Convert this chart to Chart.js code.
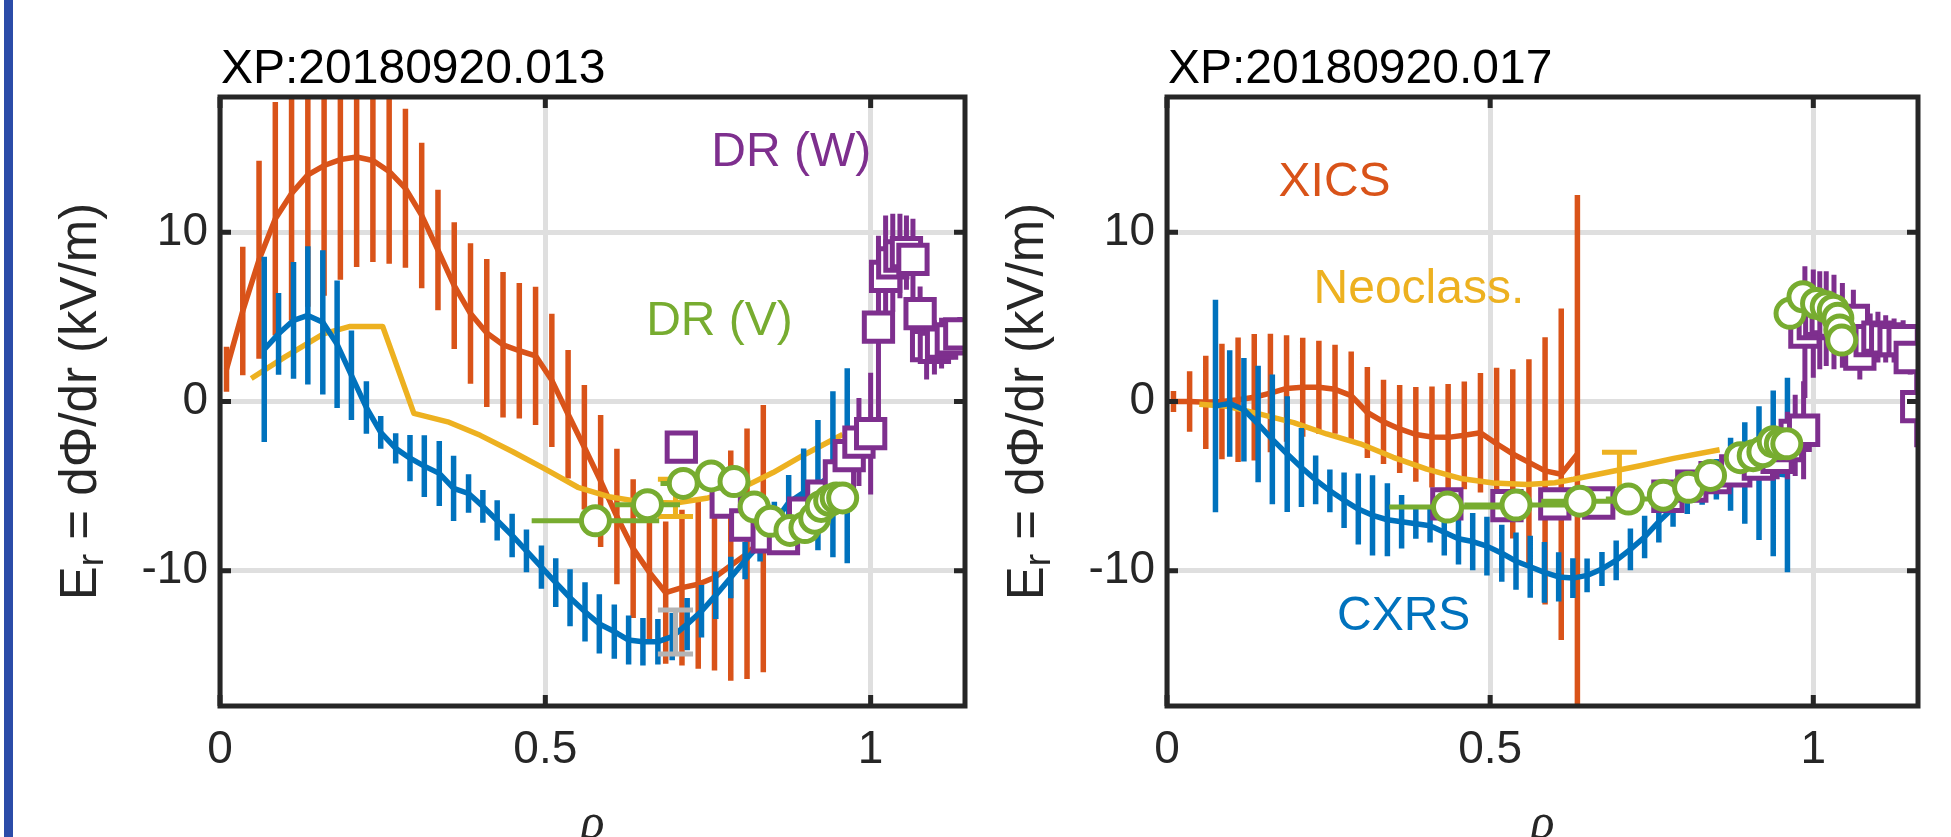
<!DOCTYPE html>
<html>
<head>
<meta charset="utf-8">
<script src="https://cdn.jsdelivr.net/npm/chart.js@4.4.1/dist/chart.umd.min.js"></script>
<style>
  html, body { margin: 0; padding: 0; background: #fff; }
  #wrap { position: relative; width: 1951px; height: 837px; overflow: hidden; background: #fff; }
  canvas { position: absolute; top: 0; }
  #c13 { left: 0; }
  #c17 { left: 990px; }
  #stripe { position: absolute; left: 4px; top: 0; width: 9px; height: 837px; background: #2b4ca8; }
</style>
</head>
<body>
<div id="wrap">
  <canvas id="c13" width="990" height="837"></canvas>
  <canvas id="c17" width="961" height="837"></canvas>
  <div id="stripe"></div>
</div>
<script>
// axis ticks (both panels)
var xTicks = [0, 0.5, 1];
var yTicks = [-10, 0, 10];

// ---------- XP:20180920.013 (left) ----------
var xicsX13 = [0.01, 0.035, 0.06, 0.085, 0.11, 0.135, 0.16, 0.185, 0.21, 0.235, 0.26, 0.285, 0.31, 0.335, 0.36, 0.385, 0.41,
               0.435, 0.46, 0.485, 0.51, 0.535, 0.56, 0.585, 0.61, 0.635, 0.66, 0.685, 0.71, 0.735, 0.76, 0.785, 0.81, 0.835];
var xicsY13 = [1.9, 5.35, 8.38, 10.8, 12.3, 13.4, 13.95, 14.3, 14.45, 14.25, 13.6, 12.6, 11.0, 8.95, 6.85, 5.2, 4.05,
               3.35, 3.0, 2.7, 1.25, -0.75, -2.7, -4.7, -6.8, -8.7, -10.1, -11.3, -11.0, -10.8, -10.4, -9.7, -9.0, -8.1];
var xicsE13 = [1.33, 3.8, 5.85, 6.9, 7.5, 7.8, 7.7, 7.1, 6.5, 6.0, 5.45, 4.7, 4.3, 3.56, 3.74, 4.15, 4.38,
               4.3, 4.0, 4.09, 3.94, 3.8, 3.68, 3.9, 4.0, 4.1, 4.15, 4.2, 4.6, 5.0, 5.5, 6.8, 7.4, 7.9];

var cxrsX13 = [0.068, 0.090, 0.113, 0.135, 0.158, 0.180, 0.202, 0.225, 0.247, 0.270, 0.292, 0.314, 0.337, 0.359,
               0.382, 0.404, 0.426, 0.449, 0.471, 0.494, 0.516, 0.538, 0.561, 0.583, 0.606, 0.628, 0.650, 0.673,
               0.695, 0.718, 0.740, 0.762, 0.785, 0.807, 0.830, 0.852, 0.874, 0.897, 0.919, 0.942, 0.964];
var cxrsY13 = [3.08, 4.0, 4.8, 5.09, 4.68, 3.38, 1.55, -0.36, -1.83, -2.77, -3.35, -3.82, -4.25, -5.13,
               -5.44, -6.2, -7.03, -7.92, -8.83, -9.79, -10.71, -11.6, -12.43, -13.15, -13.6, -14.1, -14.2, -14.2,
               -13.9, -13.16, -12.4, -11.45, -10.4, -9.4, -8.43, -7.15, -5.97, -5.38, -4.94, -4.3, -3.8];
var cxrsE13 = [5.47, 2.42, 3.45, 4.09, 4.26, 3.77, 2.65, 1.55, 0.97, 0.9, 1.37, 1.83, 1.92, 1.93,
               1.14, 0.97, 1.19, 1.28, 1.26, 1.28, 1.44, 1.69, 1.75, 1.75, 1.6, 1.45, 1.4, 1.35,
               1.4, 1.55, 1.55, 1.4, 1.23, 1.1, 1.03, 1.23, 1.62, 2.6, 3.85, 4.9, 5.76];

var neoX13 = [0.048, 0.1, 0.159, 0.2, 0.25, 0.298, 0.35, 0.4, 0.45, 0.5, 0.55, 0.6, 0.65, 0.7, 0.75, 0.8, 0.85, 0.9, 0.957];
var neoY13 = [1.36, 2.64, 4.0, 4.44, 4.44, -0.7, -1.2, -2.0, -2.97, -4.0, -5.07, -5.65, -5.95, -6.0, -5.7, -5.15, -4.2, -3.1, -1.95];
var neoBarX13 = [0.70];
var neoBarY13 = [-5.7];
var neoBarE13 = [1.1];

var drwX13 = [0.709, 0.778, 0.808, 0.841, 0.866, 0.897, 0.925, 0.952, 0.967, 0.982, 1.000, 1.012,
              1.023, 1.034, 1.045, 1.055, 1.065, 1.076, 1.086, 1.098, 1.109, 1.124, 1.137];
var drwY13 = [-2.7, -5.95, -7.3, -8.0, -8.1, -6.6, -5.6, -4.4, -3.2, -2.4, -1.9, 4.4,
              7.4, 8.2, 8.6, 8.8, 8.4, 5.2, 3.3, 3.2, 3.45, 3.7, 4.0];
var drwE13 = [0.3, 0.4, 0.5, 0.5, 0.6, 0.7, 0.9, 1.1, 1.6, 2.6, 3.6, 5.4,
              3.6, 2.9, 2.5, 2.2, 2.4, 1.6, 2.0, 1.6, 1.5, 1.2, 1.0];

var drvX13 = [0.577, 0.657, 0.712, 0.755, 0.79, 0.821, 0.846, 0.876, 0.899, 0.914, 0.924, 0.937, 0.947, 0.957];
var drvY13 = [-7.05, -6.1, -4.84, -4.4, -4.73, -6.23, -7.08, -7.62, -7.45, -6.9, -6.2, -5.85, -5.7, -5.7];
var drvE13 = [0.098, 0.05, 0.035, 0.02, 0.01, 0.01, 0.005, 0.005, 0.005, 0.005, 0.005, 0.005, 0.005, 0.005];

var grayX13 = [0.70];
var grayY13 = [-13.62];
var grayE13 = [1.3];

// ---------- XP:20180920.017 (right) ----------
var xicsX17 = [0.01, 0.035, 0.06, 0.085, 0.11, 0.135, 0.16, 0.185, 0.21, 0.235, 0.26, 0.285, 0.31,
               0.335, 0.36, 0.385, 0.41, 0.435, 0.46, 0.485, 0.51, 0.535, 0.56, 0.585, 0.61, 0.635];
var xicsY17 = [0, 0, -0.05, 0, 0.1, 0.25, 0.5, 0.77, 0.84, 0.84, 0.72, 0.35, -0.65,
               -1.2, -1.62, -1.95, -2.1, -2.12, -2.0, -1.85, -2.5, -3.1, -3.6, -4.1, -4.3, -3.1];
var xicsE17 = [0.62, 1.79, 2.76, 3.42, 3.68, 3.74, 3.5, 3.15, 2.93, 2.75, 2.63, 2.6, 2.69,
               2.49, 2.6, 2.8, 2.98, 3.15, 3.18, 3.53, 4.5, 5.0, 6.1, 7.9, 9.8, 15.3];

var cxrsX17 = [0.075, 0.097, 0.119, 0.141, 0.163, 0.186, 0.208, 0.230, 0.252, 0.274, 0.296, 0.318, 0.341, 0.363,
               0.385, 0.407, 0.429, 0.451, 0.473, 0.495, 0.518, 0.540, 0.562, 0.584, 0.606, 0.628, 0.650, 0.673,
               0.695, 0.717, 0.739, 0.761, 0.783, 0.805, 0.828, 0.850, 0.872, 0.894, 0.916, 0.938, 0.960];
var cxrsY17 = [-0.26, -0.12, -0.49, -1.33, -2.24, -3.11, -3.9, -4.63, -5.28, -5.84, -6.36, -6.73, -6.99, -7.11,
               -7.23, -7.34, -7.73, -8.11, -8.28, -8.55, -8.97, -9.44, -9.77, -10.1, -10.37, -10.44, -10.28, -9.9,
               -9.39, -8.74, -8.01, -7.1, -6.29, -5.65, -5.1, -4.6, -4.3, -4.23, -4.23, -4.25, -4.35];
var cxrsE17 = [6.28, 3.15, 3.06, 3.45, 3.83, 3.42, 2.34, 1.44, 1.26, 1.64, 2.1, 2.37, 2.16, 1.58,
               0.88, 1.0, 1.38, 1.52, 1.69, 1.73, 1.69, 1.69, 1.83, 1.8, 1.46, 1.17, 1.0, 1.0,
               1.17, 1.23, 1.25, 1.23, 1.11, 1.0, 1.0, 1.2, 2.16, 3.0, 3.95, 4.9, 5.75];

var neoX17 = [0.05, 0.093, 0.144, 0.196, 0.247, 0.299, 0.35, 0.402, 0.454, 0.505, 0.557, 0.6, 0.629, 0.68, 0.732, 0.784, 0.855];
var neoY17 = [-0.16, -0.28, -0.75, -1.25, -1.92, -2.5, -3.3, -4.0, -4.55, -4.82, -4.9, -4.8, -4.6, -4.2, -3.8, -3.36, -2.85];
var neoBarX17 = [0.70];
var neoBarY17 = [-4.2];
var neoBarE17 = [1.2];

var drwX17 = [0.433, 0.526, 0.600, 0.668, 0.775, 0.812, 0.848, 0.880, 0.915, 0.944, 0.960, 0.972, 0.985,
              0.987, 1.000, 1.010, 1.020, 1.032, 1.045, 1.062, 1.072, 1.088, 1.100, 1.112, 1.125, 1.139, 1.150, 1.160];
var drwY17 = [-6.05, -6.15, -6.05, -6.0, -5.6, -5.0, -4.5, -4.1, -3.7, -3.3, -2.6, -2.0, -1.7,
              4.1, 4.6, 4.8, 4.9, 4.7, 4.5, 4.8, 2.8, 3.6, 3.8, 3.7, 3.6, 3.6, 2.6, -0.3];
var drwE17 = [0.3, 0.3, 0.3, 0.3, 0.3, 0.4, 0.5, 0.6, 0.9, 1.3, 2.0, 2.4, 2.9,
              3.9, 3.2, 2.9, 2.8, 2.8, 2.5, 1.8, 1.5, 1.6, 1.5, 1.4, 1.3, 1.2, 1.0, 2.4];

var drvX17 = [0.434, 0.54, 0.639, 0.714, 0.768, 0.807, 0.841, 0.887, 0.907, 0.922, 0.938, 0.949, 0.959,
              0.964, 0.984, 1.005, 1.02, 1.031, 1.038, 1.041, 1.044];
var drvY17 = [-6.24, -6.12, -5.89, -5.77, -5.54, -5.07, -4.37, -3.32, -3.2, -2.97, -2.38, -2.5, -2.5,
              5.21, 6.19, 5.8, 5.6, 5.4, 4.92, 4.23, 3.63];
var drvE17 = [0.09, 0.08, 0.06, 0.035, 0.02, 0.01, 0.01, 0.005, 0.005, 0.005, 0.005, 0.005, 0.005,
              0.005, 0.005, 0.005, 0.005, 0.005, 0.005, 0.005, 0.005];

// colours (MATLAB defaults)
var BLUE = '#0072BD', ORANGE = '#D95319', YELLOW = '#EDB120', PURPLE = '#7E2F8E', GREEN = '#77AC30', GRAY = '#b4b4b4';
var SANS = '"Liberation Sans", Arial, Helvetica, sans-serif';
var CAP = 0.027;
var LW = 5.5;

function pts(xs, ys) {
    return xs.map(function (x, i) { return { x: x, y: ys[i] }; });
}
// vertical error bars as broken line segments
function vbars(xs, ys, es, cap) {
    var out = [];
    for (var i = 0; i < xs.length; i++) {
        out.push({ x: xs[i], y: ys[i] - es[i] }, { x: xs[i], y: ys[i] + es[i] }, { x: xs[i], y: null });
        if (cap) {
            out.push({ x: xs[i] - cap, y: ys[i] - es[i] }, { x: xs[i] + cap, y: ys[i] - es[i] }, { x: xs[i], y: null });
            out.push({ x: xs[i] - cap, y: ys[i] + es[i] }, { x: xs[i] + cap, y: ys[i] + es[i] }, { x: xs[i], y: null });
        }
    }
    return out;
}
// horizontal error bars
function hbars(xs, ys, es) {
    var out = [];
    for (var i = 0; i < xs.length; i++) {
        out.push({ x: xs[i] - es[i], y: ys[i] }, { x: xs[i] + es[i], y: ys[i] }, { x: xs[i], y: null });
    }
    return out;
}
function lineSet(data, color, order, width) {
    return {
        data: data, showLine: true, spanGaps: false, borderColor: color, borderWidth: width || LW,
        pointRadius: 0, pointHoverRadius: 0, borderCapStyle: 'butt', borderJoinStyle: 'round', fill: false, order: order
    };
}
function markSet(data, color, style, r, order) {
    return {
        data: data, showLine: false, pointStyle: style, pointRadius: r, pointHoverRadius: r,
        pointBorderWidth: 5, pointBorderColor: color, pointBackgroundColor: '#fff', order: order
    };
}

// text + axes box drawn on top
var deco = {
    c13: {
        title: 'XP:20180920.013',
        labels: [
            { text: 'DR (W)', x: 0.755, y: 13.93, color: PURPLE },
            { text: 'DR (V)', x: 0.655, y: 3.94, color: GREEN }
        ]
    },
    c17: {
        title: 'XP:20180920.017',
        labels: [
            { text: 'XICS', x: 0.1726, y: 12.16, color: ORANGE },
            { text: 'Neoclass.', x: 0.2267, y: 5.81, color: YELLOW },
            { text: 'CXRS', x: 0.263, y: -13.5, color: BLUE }
        ]
    }
};

var panelDeco = {
    id: 'panelDeco',
    afterDraw: function (chart) {
        var d = deco[chart.canvas.id];
        var ctx = chart.ctx, a = chart.chartArea, xs = chart.scales.x, ys = chart.scales.y;
        ctx.save();
        // box with inward ticks
        ctx.strokeStyle = '#262626';
        ctx.lineWidth = 5;
        ctx.strokeRect(a.left, a.top, a.right - a.left, a.bottom - a.top);
        ctx.beginPath();
        xs.ticks.forEach(function (t) {
            var px = xs.getPixelForValue(t.value);
            ctx.moveTo(px, a.bottom); ctx.lineTo(px, a.bottom - 11);
            ctx.moveTo(px, a.top); ctx.lineTo(px, a.top + 11);
        });
        ys.ticks.forEach(function (t) {
            var py = ys.getPixelForValue(t.value);
            ctx.moveTo(a.left, py); ctx.lineTo(a.left + 11, py);
            ctx.moveTo(a.right, py); ctx.lineTo(a.right - 11, py);
        });
        ctx.stroke();

        // title
        ctx.fillStyle = '#000';
        ctx.textAlign = 'left';
        ctx.textBaseline = 'alphabetic';
        ctx.font = '48px ' + SANS;
        ctx.fillText(d.title, a.left + 1, 83);

        // in-plot labels
        d.labels.forEach(function (l) {
            ctx.fillStyle = l.color;
            ctx.fillText(l.text, xs.getPixelForValue(l.x), ys.getPixelForValue(l.y));
        });

        // x label
        ctx.fillStyle = '#262626';
        ctx.textAlign = 'center';
        ctx.font = 'italic 50px "Liberation Serif", "Times New Roman", serif';
        ctx.fillText('\u03C1', (a.left + a.right) / 2, 838);

        // y label with subscript
        ctx.translate(a.left - 124, (a.top + a.bottom) / 2);
        ctx.rotate(-Math.PI / 2);
        ctx.textAlign = 'left';
        var big = '51px ' + SANS, small = '37px ' + SANS, rest = ' = d\u03A6/dr (kV/m)';
        ctx.font = big; var wE = ctx.measureText('E').width; var wRest = ctx.measureText(rest).width;
        ctx.font = small; var wr = ctx.measureText('r').width;
        var x0 = -(wE + wr + wRest) / 2;
        ctx.font = big; ctx.fillText('E', x0, 0);
        ctx.font = small; ctx.fillText('r', x0 + wE, 7);
        ctx.font = big; ctx.fillText(rest, x0 + wE + wr, 0);
        ctx.restore();
    }
};

function scalesFor(xMax, yWidth) {
    var tickFont = { family: SANS, size: 46 };
    return {
        x: {
            type: 'linear', min: 0, max: xMax,
            afterBuildTicks: function (s) { s.ticks = xTicks.map(function (v) { return { value: v }; }); },
            afterFit: function (s) { s.height = 131; },
            grid: { color: '#dfdfdf', lineWidth: 5, drawTicks: false },
            border: { display: false },
            ticks: { padding: 17, color: '#262626', font: tickFont, maxRotation: 0, autoSkip: false,
                     callback: function (v) { return String(v); } }
        },
        y: {
            type: 'linear', min: -18, max: 18,
            afterBuildTicks: function (s) { s.ticks = yTicks.map(function (v) { return { value: v }; }); },
            afterFit: function (s) { s.width = yWidth; },
            grid: { color: '#dfdfdf', lineWidth: 5, drawTicks: false },
            border: { display: false },
            ticks: { padding: 12, color: '#262626', font: tickFont, autoSkip: false,
                     callback: function (v) { return String(v); } }
        }
    };
}

function buildDatasets(p) {
    var sets = [
        lineSet(vbars(p.xicsX, p.xicsY, p.xicsE), ORANGE, 12),
        lineSet(pts(p.xicsX, p.xicsY), ORANGE, 11),
        lineSet(pts(p.neoX, p.neoY), YELLOW, 10),
        lineSet(vbars(p.neoBarX, p.neoBarY, p.neoBarE, CAP), YELLOW, 9, 5),
        lineSet(vbars(p.cxrsX, p.cxrsY, p.cxrsE), BLUE, 8),
        lineSet(pts(p.cxrsX, p.cxrsY), BLUE, 7),
        lineSet(vbars(p.drwX, p.drwY, p.drwE), PURPLE, 6, 5),
        markSet(pts(p.drwX, p.drwY), PURPLE, 'rect', 20, 5),
        lineSet(hbars(p.drvX, p.drvY, p.drvE), GREEN, 4, 5),
        markSet(pts(p.drvX, p.drvY), GREEN, 'circle', 14, 3)
    ];
    if (p.grayX) sets.push(lineSet(vbars(p.grayX, p.grayY, p.grayE, CAP), GRAY, 1, 5));
    return sets;
}

function makeChart(id, p, xMax, yWidth, padRight) {
    return new Chart(document.getElementById(id).getContext('2d'), {
        type: 'scatter',
        data: { datasets: buildDatasets(p) },
        options: {
            responsive: false, animation: false, devicePixelRatio: 1, events: [],
            layout: { padding: { left: 0, right: padRight, top: 97, bottom: 0 } },
            scales: scalesFor(xMax, yWidth),
            plugins: { legend: { display: false }, tooltip: { enabled: false } }
        },
        plugins: [panelDeco]
    });
}

makeChart('c13', {
    xicsX: xicsX13, xicsY: xicsY13, xicsE: xicsE13,
    cxrsX: cxrsX13, cxrsY: cxrsY13, cxrsE: cxrsE13,
    neoX: neoX13, neoY: neoY13, neoBarX: neoBarX13, neoBarY: neoBarY13, neoBarE: neoBarE13,
    drwX: drwX13, drwY: drwY13, drwE: drwE13,
    drvX: drvX13, drvY: drvY13, drvE: drvE13,
    grayX: grayX13, grayY: grayY13, grayE: grayE13
}, 1.145, 220, 13);

makeChart('c17', {
    xicsX: xicsX17, xicsY: xicsY17, xicsE: xicsE17,
    cxrsX: cxrsX17, cxrsY: cxrsY17, cxrsE: cxrsE17,
    neoX: neoX17, neoY: neoY17, neoBarX: neoBarX17, neoBarY: neoBarY17, neoBarE: neoBarE17,
    drwX: drwX17, drwY: drwY17, drwE: drwE17,
    drvX: drvX17, drvY: drvY17, drvE: drvE17
}, 1.162, 177, 33);
</script>
</body>
</html>
